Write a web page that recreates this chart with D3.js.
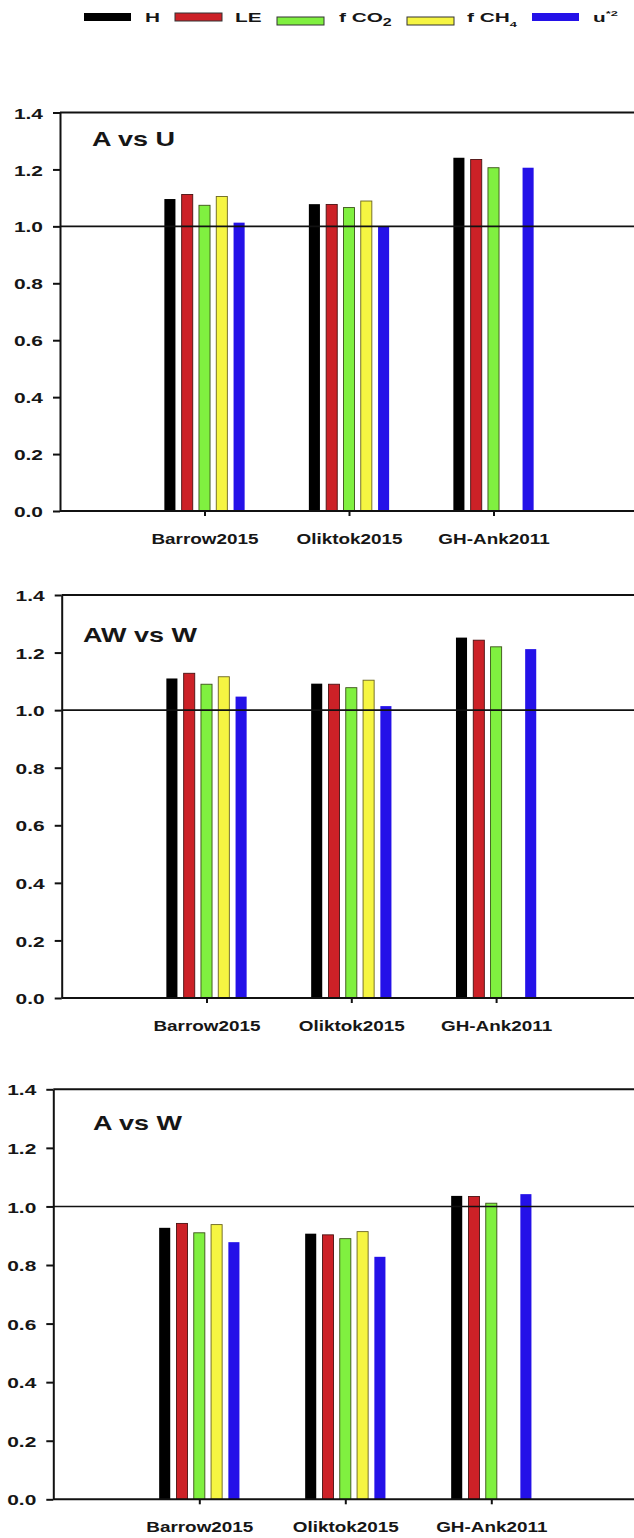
<!DOCTYPE html>
<html>
<head>
<meta charset="utf-8">
<script src="https://cdn.jsdelivr.net/npm/d3@7"></script>
<style>
  html, body { margin: 0; padding: 0; background: #fff; }
  svg { display: block; }
  text { font-family: "Liberation Sans", Arial, sans-serif; font-weight: bold; fill: #161616; }
</style>
</head>
<body>
<script>
// ---------------- DATA ----------------
const categories = ["Barrow2015", "Oliktok2015", "GH-Ank2011"];
const panelTitles = ["A vs U", "AW vs W", "A vs W"];
const seriesKeys = ["H", "LE", "fCO2", "fCH4", "ustar2"];
const yTicks = [0.0, 0.2, 0.4, 0.6, 0.8, 1.0, 1.2, 1.4];

// values per series: one row per panel (A vs U, AW vs W, A vs W), one value per category
const valuesH    = [[1.096, 1.078, 1.241], [1.110, 1.092, 1.252], [0.927, 0.907, 1.036]];
const valuesLE   = [[1.112, 1.077, 1.235], [1.128, 1.090, 1.243], [0.942, 0.903, 1.034]];
const valuesCO2  = [[1.074, 1.066, 1.206], [1.090, 1.078, 1.220], [0.910, 0.890, 1.011]];
const valuesCH4  = [[1.105, 1.089, null ], [1.116, 1.104, null ], [0.938, 0.914, null ]];
const valuesUst2 = [[1.013, 0.999, 1.206], [1.047, 1.014, 1.212], [0.878, 0.828, 1.042]];
const referenceLine = 1.0;

// ---------------- STYLE / LAYOUT ----------------
const seriesValues = [valuesH, valuesLE, valuesCO2, valuesCH4, valuesUst2];
const fills   = ["#000000", "#cc2127", "#80f040", "#f6f542", "#2411e8"];
const strokes = ["none", "#4a1212", "#3b5218", "#6a6420", "none"];
const SX = 1.35; // horizontal stretch of the original figure's lettering

const W = 634, H = 1538;
const svg = d3.select("body").append("svg").attr("width", W).attr("height", H);

const layouts = [
  { left: 60.0, top: 112.5, bottom: 511.0, step: 144.5, titleX: 92, titleY: 146 },
  { left: 61.7, top: 595.0, bottom: 998.0, step: 144.8, titleX: 83, titleY: 642 },
  { left: 53.3, top: 1089.3, bottom: 1499.3, step: 146.0, titleX: 93, titleY: 1130 }
];

function stretchedText(g, x, y, str, size, anchor, sx) {
  return g.append("text")
    .attr("transform", `translate(${x},${y}) scale(${sx},1)`)
    .attr("text-anchor", anchor || "start")
    .attr("font-size", size)
    .text(str);
}

layouts.forEach((L, p) => {
  const g = svg.append("g");
  const right = L.left + 4 * L.step;
  const x = d3.scaleLinear().domain([0, 4]).range([L.left, right]);
  const y = d3.scaleLinear().domain([0, 1.4]).range([L.bottom, L.top]);
  const inner = d3.scaleBand().domain(seriesKeys).range([-43.25, 43.25])
    .paddingInner(0.36).paddingOuter(0.18);

  // bars
  seriesKeys.forEach((k, s) => {
    const rows = seriesValues[s][p].map((v, i) => ({ v, i })).filter(d => d.v != null);
    g.selectAll(null).data(rows).enter().append("rect")
      .attr("x", d => x(d.i + 1) + inner(k))
      .attr("width", inner.bandwidth())
      .attr("y", d => y(d.v))
      .attr("height", d => y(0) - y(d.v))
      .attr("fill", fills[s])
      .attr("stroke", strokes[s])
      .attr("stroke-width", strokes[s] === "none" ? 0 : 0.9);
  });

  // reference line at 1.0
  g.append("line")
    .attr("x1", L.left).attr("x2", right + 10)
    .attr("y1", y(referenceLine)).attr("y2", y(referenceLine))
    .attr("stroke", "#111").attr("stroke-width", 1.6);

  // top frame line
  g.append("line")
    .attr("x1", L.left).attr("x2", right + 10)
    .attr("y1", y(1.4)).attr("y2", y(1.4))
    .attr("stroke", "#111").attr("stroke-width", 2);

  // y axis
  const ya = g.append("g").attr("transform", `translate(${L.left},0)`)
    .call(d3.axisLeft(y).tickValues(yTicks).tickFormat(d3.format(".1f"))
      .tickSize(7).tickSizeOuter(0));
  ya.select(".domain").attr("stroke", "#111").attr("stroke-width", 2);
  ya.selectAll(".tick line").attr("stroke", "#111").attr("stroke-width", 2);
  ya.selectAll(".tick text")
    .attr("font-size", 15.5).attr("font-family", null)
    .attr("x", -17 / SX).attr("dy", "0.36em")
    .attr("transform", `scale(${SX},1)`);

  // x axis
  const xa = g.append("g").attr("transform", `translate(0,${L.bottom})`)
    .call(d3.axisBottom(x).tickValues([1, 2, 3])
      .tickFormat(d => categories[d - 1]).tickSize(5).tickSizeOuter(0));
  xa.select(".domain").attr("stroke", "#111").attr("stroke-width", 2)
    .attr("d", `M${L.left},0H${right + 10}`);
  xa.selectAll(".tick line").attr("stroke", "#111").attr("stroke-width", 2);
  xa.selectAll(".tick text")
    .attr("font-size", 14).attr("font-family", null)
    .attr("y", 33).attr("dy", 0)
    .attr("transform", `scale(${SX},1)`);

  // panel title
  stretchedText(g, L.titleX, L.titleY, panelTitles[p], 20, "start", SX);
});

// ---------------- LEGEND ----------------
const legendSwatchX = [84, 175, 277, 407, 532];
const legendTextX   = [145, 235, 339, 467, 593];
const legendSwatchY = [13, 13, 17, 17, 13];
const LSX = 1.6;
const lg = svg.append("g");
seriesKeys.forEach((k, s) => {
  lg.append("rect")
    .attr("x", legendSwatchX[s]).attr("y", legendSwatchY[s])
    .attr("width", 47).attr("height", 8)
    .attr("fill", fills[s])
    .attr("stroke", strokes[s] === "none" ? "none" : "#333")
    .attr("stroke-width", strokes[s] === "none" ? 0 : 1);
  const t = lg.append("text")
    .attr("transform", `translate(${legendTextX[s]},22) scale(${LSX},1)`)
    .attr("font-size", 13);
  if (k === "H") t.text("H");
  else if (k === "LE") t.text("LE");
  else if (k === "fCO2") {
    t.append("tspan").text("f CO");
    t.append("tspan").attr("font-size", 10).attr("dy", 4).text("2");
  } else if (k === "fCH4") {
    t.append("tspan").text("f CH");
    t.append("tspan").attr("font-size", 8).attr("dy", 5).text("4");
  } else {
    t.append("tspan").text("u");
    t.append("tspan").attr("font-size", 8).attr("dy", -6).text("*2");
  }
});
</script>
</body>
</html>
